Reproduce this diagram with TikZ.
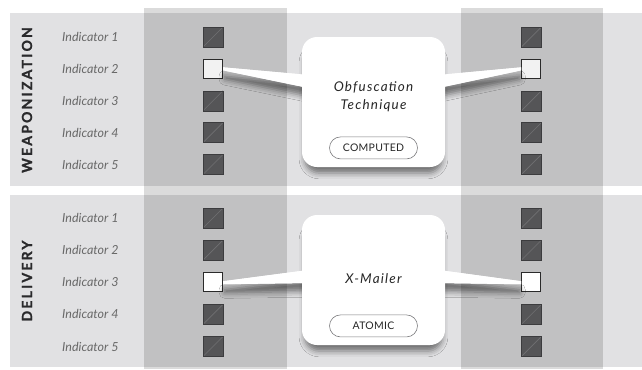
\documentclass[tikz,border=0pt]{standalone}
\usepackage{fontspec}
\setmainfont{Lato}
\newfontfamily\spacedfont[LetterSpace=9]{Lato}
\newfontfamily\tagfont[LetterSpace=3]{Lato}
\newfontfamily\secfont[LetterSpace=16, BoldFeatures={FakeBold=1.2}]{Lato}
\usetikzlibrary{positioning, shadows.blur}

\definecolor{bandgray}{HTML}{E1E1E3}
\definecolor{sqfill}{HTML}{555557}
\definecolor{sqedge}{HTML}{3C3C3E}
\definecolor{sqline}{HTML}{707072}
\definecolor{hitedge}{HTML}{2A2A2A}
\definecolor{indtext}{HTML}{686868}
\definecolor{sectext}{HTML}{2A2A2C}
\definecolor{tagedge}{HTML}{7C7C7E}

\tikzset{
	sq/.style={draw=sqedge, line width=0.4bp, fill=sqfill, minimum size=20bp, inner sep=0pt,
		path picture={\draw[sqline, line width=0.6bp] (path picture bounding box.south west) -- (path picture bounding box.north east);}},
	hit/.style={draw=hitedge, line width=1.3bp, fill=#1, minimum size=19bp, inner sep=0pt},
	ind/.style={anchor=west, inner sep=0pt, text=indtext, font=\itshape\fontsize{12.5}{14}\selectfont},
	sec/.style={rotate=90, inner sep=0pt, text=sectext, font=\secfont\bfseries\fontsize{14}{16}\selectfont},
	card/.style={fill=white, rounded corners=15bp, minimum width=143bp, minimum height=130bp, inner sep=0pt},
	lift/.style={blur shadow={shadow xshift=0bp, shadow yshift=-9bp, shadow scale=0.96, shadow blur radius=6bp, shadow opacity=50}},
	wedge/.style={fill=white},
	title/.style={align=center, inner sep=0pt, text=black!85, font=\spacedfont\itshape\fontsize{13.5}{18}\selectfont},
	tag/.style={draw=tagedge, line width=0.6bp, fill=white, rounded corners=11bp, minimum width=88bp, minimum height=22bp, inner sep=0pt, text=black!85, font=\tagfont\fontsize{10.5}{12}\selectfont}
}

\begin{document}
\begin{tikzpicture}[x=1bp, y=-1bp]
	\useasboundingbox (0,0) rectangle (642,369);

	% bands and columns
	\fill[bandgray] (10,13) rectangle (642,186);
	\fill[bandgray] (10,195) rectangle (642,367);
	\fill[black, opacity=0.14] (144,8) rectangle (287,369);
	\fill[black, opacity=0.14] (461,8) rectangle (603,369);

	\node[sec] (wsec) at (27,100) {WEAPONIZATION};
	\node[sec] (dsec) at (27,281) {DELIVERY};

	% weaponization
	\node[sq] (wa1) at (213,37) {};
	\node[hit=black!5, below=11.5bp of wa1] (wa2) {};
	\node[sq, below=11.5bp of wa2] (wa3) {};
	\node[sq, below=11.5bp of wa3] (wa4) {};
	\node[sq, below=11.5bp of wa4] (wa5) {};

	\node[sq, right=298bp of wa1] (wb1) {};
	\node[hit=black!5, right=298bp of wa2] (wb2) {};
	\node[sq, right=298bp of wa3] (wb3) {};
	\node[sq, right=298bp of wa4] (wb4) {};
	\node[sq, right=298bp of wa5] (wb5) {};

	\node[ind] (wi1) at (62,0 |- wa1) {Indicator 1};
	\node[ind] (wi2) at (62,0 |- wa2) {Indicator 2};
	\node[ind] (wi3) at (62,0 |- wa3) {Indicator 3};
	\node[ind] (wi4) at (62,0 |- wa4) {Indicator 4};
	\node[ind] (wi5) at (62,0 |- wa5) {Indicator 5};

	% delivery
	\node[sq] (da1) at (213,218) {};
	\node[sq, below=11.75bp of da1] (da2) {};
	\node[hit=white, below=11.75bp of da2] (da3) {};
	\node[sq, below=11.75bp of da3] (da4) {};
	\node[sq, below=11.75bp of da4] (da5) {};

	\node[sq, right=298bp of da1] (db1) {};
	\node[sq, right=298bp of da2] (db2) {};
	\node[hit=white, right=298bp of da3] (db3) {};
	\node[sq, right=298bp of da4] (db4) {};
	\node[sq, right=298bp of da5] (db5) {};

	\node[ind] (di1) at (62,0 |- da1) {Indicator 1};
	\node[ind] (di2) at (62,0 |- da2) {Indicator 2};
	\node[ind] (di3) at (62,0 |- da3) {Indicator 3};
	\node[ind] (di4) at (62,0 |- da4) {Indicator 4};
	\node[ind] (di5) at (62,0 |- da5) {Indicator 5};

	% callouts
	\coordinate (wc) at (373.5,102);
	\coordinate (dc) at (373.5,280);

	\fill[wedge, lift] ([yshift=1.5bp]wa2.east) -- ([xshift=-65bp,yshift=27bp]wc) -- ([xshift=-65bp,yshift=14bp]wc) -- ([yshift=-1.5bp]wa2.east) -- cycle;
	\fill[wedge, lift] ([yshift=1.5bp]wb2.west) -- ([xshift=65bp,yshift=27bp]wc) -- ([xshift=65bp,yshift=14bp]wc) -- ([yshift=-1.5bp]wb2.west) -- cycle;
	\fill[wedge, lift] ([yshift=1bp]da3.east) -- ([xshift=-65bp,yshift=10bp]dc) -- ([xshift=-65bp,yshift=-3bp]dc) -- ([yshift=-2bp]da3.east) -- cycle;
	\fill[wedge, lift] ([yshift=1bp]db3.west) -- ([xshift=65bp,yshift=10bp]dc) -- ([xshift=65bp,yshift=-3bp]dc) -- ([yshift=-2bp]db3.west) -- cycle;

	\node[card, lift] (wbox) at (wc) {};
	\node[card, lift] (dbox) at (dc) {};

	\fill[wedge] ([yshift=1.5bp]wa2.east) -- ([xshift=-65bp,yshift=27bp]wc) -- ([xshift=-65bp,yshift=14bp]wc) -- ([yshift=-1.5bp]wa2.east) -- cycle;
	\fill[wedge] ([yshift=1.5bp]wb2.west) -- ([xshift=65bp,yshift=27bp]wc) -- ([xshift=65bp,yshift=14bp]wc) -- ([yshift=-1.5bp]wb2.west) -- cycle;
	\fill[wedge] ([yshift=1bp]da3.east) -- ([xshift=-65bp,yshift=10bp]dc) -- ([xshift=-65bp,yshift=-3bp]dc) -- ([yshift=-2bp]da3.east) -- cycle;
	\fill[wedge] ([yshift=1bp]db3.west) -- ([xshift=65bp,yshift=10bp]dc) -- ([xshift=65bp,yshift=-3bp]dc) -- ([yshift=-2bp]db3.west) -- cycle;

	\node[title] (wname) at ([yshift=5bp]wbox.center) {Obfuscation\\Technique};
	\node[tag, above=8bp of wbox.south] (wtag) {COMPUTED};

	\node[title] (dname) at ([yshift=1bp]dbox.center) {X-Mailer};
	\node[tag, above=8bp of dbox.south] (dtag) {ATOMIC};
\end{tikzpicture}
\end{document}
